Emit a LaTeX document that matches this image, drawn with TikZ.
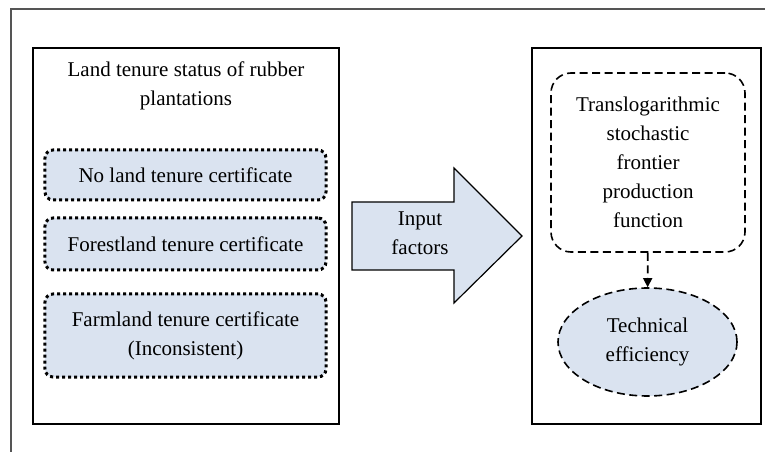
\documentclass[tikz,border=0pt]{standalone}
\usepackage{fontspec}
\setmainfont{Liberation Serif}
\usetikzlibrary{positioning,shapes.geometric,arrows.meta}
\definecolor{paleblue}{HTML}{DAE3F0}
\definecolor{framegray}{HTML}{555555}

\tikzset{
  panel/.style={draw=black,line width=1.6bp,inner sep=0pt},
  tenure/.style={draw=black,fill=paleblue,rounded corners=8bp,line width=3bp,
    dash pattern=on 3bp off 3bp,minimum width=281bp,align=center},
  model/.style={draw=black,line width=1.6bp,dash pattern=on 8bp off 4.5bp},
}

\begin{document}
\begin{tikzpicture}[x=1bp,y=-1bp,font=\fontsize{21bp}{29bp}\selectfont]
    \useasboundingbox (0,0) rectangle (765,452);
    % outer frame, only top and left edges show
    \draw[framegray,line width=1.3bp] (11,452) -- (11,9) -- (765,9);

    % left panel: tenure groups
    \node[panel,minimum width=306bp,minimum height=376bp] (tenurepanel) at (186,236) {};
    \node[align=center] (title) at (186,86) {Land tenure status of rubber\\plantations};
    \node[tenure,minimum height=50bp] (nocert) at (185.5,175) {No land tenure certificate};
    \node[tenure,minimum height=52bp] (forest) at (185.5,244) {Forestland tenure certificate};
    \node[tenure,minimum height=83bp] (farm) at (185.5,335.5) {Farmland tenure certificate\\(Inconsistent)};

    % block arrow
    \draw[fill=paleblue,line width=1.2bp] (352,202) -- (454,202) -- (454,168) -- (522,236)
      -- (454,303) -- (454,270) -- (352,270) -- cycle;
    \node[align=center] (input) at (420,233) {Input\\factors};

    % right panel: model
    \node[panel,minimum width=229bp,minimum height=376bp] (modelpanel) at (646.5,236) {};
    \node[model,rounded corners=20bp,minimum width=194bp,minimum height=179bp,align=center]
      (frontier) at (648,162.5) {Translogarithmic\\stochastic\\frontier\\production\\function};
    \node[model,ellipse,fill=paleblue,minimum width=179bp,minimum height=108bp,align=center,inner sep=0pt]
      (te) at (647.5,342) {Technical\\efficiency};
    \draw[model,-{Triangle[length=9bp,width=9bp]}] (frontier) -- (te);
\end{tikzpicture}
\end{document}
